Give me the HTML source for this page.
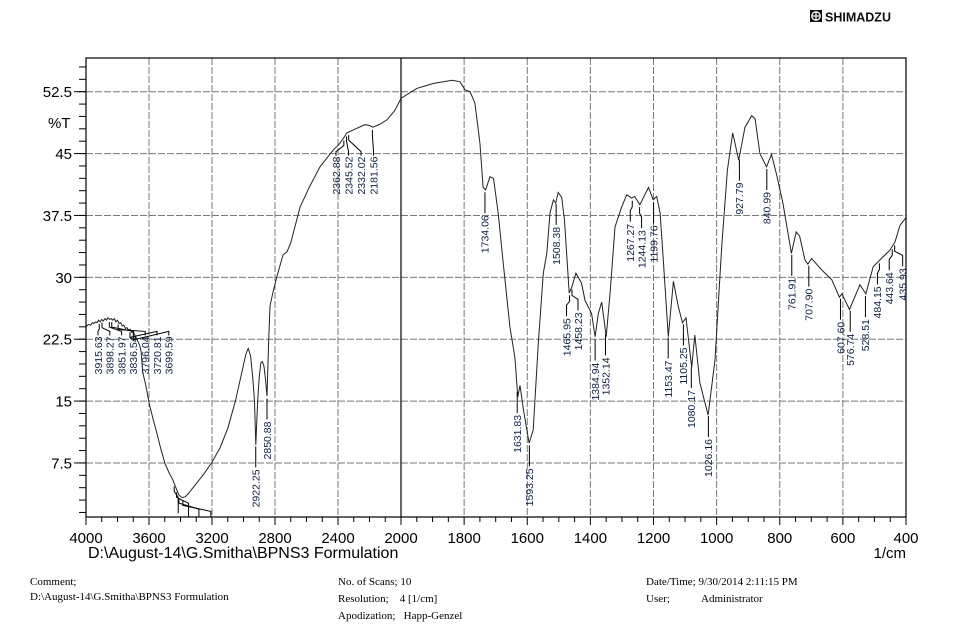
<!DOCTYPE html>
<html><head><meta charset="utf-8">
<style>
html,body{margin:0;padding:0;background:#fff;}
body{width:955px;height:638px;position:relative;overflow:hidden;font-family:"Liberation Sans",Arial,sans-serif;}
.ft{position:absolute;font-family:"Liberation Serif","Times New Roman",serif;font-size:11px;color:#000;white-space:pre;}
</style></head>
<body>
<svg id="chart" width="955" height="638" style="position:absolute;left:0;top:0">
  <g>
    <rect x="810" y="10" width="12" height="12" fill="#111"/>
    <circle cx="816" cy="16" r="4.2" fill="none" stroke="#fff" stroke-width="1.3"/>
    <line x1="816" y1="12" x2="816" y2="20" stroke="#fff" stroke-width="1.2"/>
    <line x1="812" y1="16" x2="820" y2="16" stroke="#fff" stroke-width="1.2"/>
    <text x="825" y="21.5" font-size="12.5" font-weight="bold" font-family="Liberation Sans, sans-serif" fill="#111">SHIMADZU</text>
  </g>
  <g id="grid"></g>
  <g id="axes"></g>
  <defs><clipPath id="pc"><rect x="86" y="58" width="820" height="459"/></clipPath></defs>
  <g clip-path="url(#pc)">
    <path id="spec" fill="none" stroke="#222" stroke-width="1"/>
    <g id="peaks"></g>
  </g>
  <rect x="86" y="58" width="820" height="459" fill="none" stroke="#000" stroke-width="1.2"/>
</svg>

<div class="ft" style="left:30px;top:576px">Comment;</div>
<div class="ft" style="left:30px;top:591px">D:\August-14\G.Smitha\BPNS3 Formulation</div>
<div class="ft" style="left:338px;top:576px">No. of Scans; 10</div>
<div class="ft" style="left:338px;top:593px">Resolution;    4 [1/cm]</div>
<div class="ft" style="left:338px;top:610px">Apodization;   Happ-Genzel</div>
<div class="ft" style="left:646px;top:576px">Date/Time; 9/30/2014 2:11:15 PM</div>
<div class="ft" style="left:646px;top:593px">User;</div>
<div class="ft" style="left:701px;top:593px">Administrator</div>

<script>
const wavenumbers = [4000,3985,3970,3960,3950,3940,3930,3920,3910,3900,3890,3880,3870,3860,3850,3840,3830,3820,3810,3800,3790,3780,3770,3760,3750,3740,3730,3720,3710,3700,3690,3680,3670,3660,3650,3640,3620,3600,3575,3550,3525,3500,3475,3450,3425,3410,3390,3370,3350,3300,3250,3200,3150,3100,3050,3000,2985,2970,2955,2940,2930,2922,2910,2900,2890,2880,2870,2860,2851,2840,2832,2815,2789,2749,2724,2700,2641,2580,2514,2432,2390,2343,2300,2229,2200,2178,2130,2089,2040,2000,1950,1898,1838,1813,1797,1781,1766,1750,1740,1732,1718,1707,1692,1677,1655,1639,1630,1623,1612,1594,1581,1565,1549,1538,1528,1517,1510,1502,1491,1482,1467,1459,1446,1428,1417,1396,1385,1375,1364,1350,1337,1322,1301,1285,1269,1260,1243,1216,1201,1190,1179,1169,1153,1137,1121,1108,1097,1079,1069,1053,1027,1005,984,966,949,930,910,889,878,863,842,826,811,790,763,748,737,720,711,699,667,635,611,603,579,546,527,504,483,451,435,419,403,400];
const transmittance = [24.0,24.3,24.2,24.5,24.4,24.6,24.5,24.8,24.6,24.9,24.7,25.0,24.8,25.1,24.9,25.0,24.8,25.0,24.6,24.8,24.4,24.5,24.1,24.2,23.8,23.9,23.6,23.7,23.3,23.4,23.0,22.6,22.2,21.8,21.0,18.5,16.9,14.8,12.9,11.1,9.2,7.5,6.4,5.5,4.3,3.6,3.3,3.4,3.8,5.0,6.2,7.6,9.3,11.7,15.1,19.4,20.7,21.4,20.5,17.6,15.0,9.7,15.1,18.0,19.6,19.8,19.2,17.5,15.6,22.4,26.5,28.0,30.0,32.7,33.1,34.2,38.5,41.0,43.4,45.4,46.2,47.5,47.9,48.5,48.4,48.2,48.6,49.1,50.2,51.7,52.9,53.5,53.9,53.7,52.7,52.5,51.1,46.3,40.9,40.6,42.2,42.0,37.8,32.1,24.0,20.3,15.5,16.9,13.9,9.9,11.5,22.0,30.5,32.9,37.8,39.4,39.0,40.3,39.7,36.9,28.1,28.8,30.5,29.3,27.2,25.6,22.8,25.6,27.0,22.8,28.4,36.1,38.5,40.0,39.6,39.8,38.8,40.9,39.4,39.8,37.8,32.1,22.8,29.5,26.4,24.5,25.1,19.1,23.0,17.2,13.3,20.0,33.7,43.0,47.5,44.2,48.2,49.6,49.2,45.0,43.4,44.9,42.6,39.0,32.9,35.5,35.0,32.1,31.6,32.3,30.9,29.7,27.6,28.0,26.1,29.1,28.0,31.3,32.1,33.3,34.3,36.3,37.1,37.3];
const peakWavenumbers = [1734.06,1631.83,1593.25,1508.38,1465.95,1458.23,1384.94,1352.14,1267.27,1244.13,1199.76,1153.47,1105.25,1080.17,1026.16,927.79,840.99,761.91,707.90,607.60,576.74,528.51,484.15,443.64,435.93,2922.25,2850.88];
const peakLabels = ["1734.06","1631.83","1593.25","1508.38","1465.95","1458.23","1384.94","1352.14","1267.27","1244.13","1199.76","1153.47","1105.25","1080.17","1026.16","927.79","840.99","761.91","707.90","607.60","576.74","528.51","484.15","443.64","435.93","2922.25","2850.88"];
const peakLabelShift = [0,0,0,0,-3,6,0,0,-2,2,0,0,0,0,0,0,0,0,0,0,0,0,-2,-3,8,0,0];
const clusterWavenumbers = [3915.63,3898.27,3851.97,3836.54,3796.04,3720.81,3699.59,2362.88,2345.52,2332.02,2181.56];
const clusterLabels = ["3915.63","3898.27","3851.97","3836.54","3796.04","3720.81","3699.59","2362.88","2345.52","2332.02","2181.56"];
const yTicks = [7.5,15,22.5,30,37.5,45,52.5];
const yTickLabels = ["7.5","15","22.5","30","37.5","45","52.5"];
const xTicks = [4000,3600,3200,2800,2400,2000,1800,1600,1400,1200,1000,800,600,400];

const X0=86, X2000=401, X1=906, Y0=91.7, PXU=8.25;
function xS(w){ return w>=2000 ? X0+(4000-w)*(X2000-X0)/2000 : X2000+(2000-w)*(X1-X2000)/1600; }
function yS(t){ return Y0+(52.5-t)*PXU; }
function interpT(w){
  for(let i=0;i<wavenumbers.length-1;i++){
    if(w<=wavenumbers[i] && w>=wavenumbers[i+1]){
      const f=(wavenumbers[i]-w)/(wavenumbers[i]-wavenumbers[i+1]);
      return transmittance[i]+f*(transmittance[i+1]-transmittance[i]);
    }
  }
  return transmittance[transmittance.length-1];
}
const NS="http://www.w3.org/2000/svg";
function mk(tag,attrs,parent){const e=document.createElementNS(NS,tag);for(const k in attrs)e.setAttribute(k,attrs[k]);parent.appendChild(e);return e;}

const grid=document.getElementById('grid'), axes=document.getElementById('axes');
yTicks.forEach((t,i)=>{
  const y=yS(t);
  const g=mk('line',{x1:86,x2:906,y1:y,y2:y,stroke:'#777','stroke-width':1,'stroke-dasharray':'7,2'},grid);
  
  
  const tk=mk('line',{x1:74,x2:86,y1:y,y2:y,stroke:'#000','stroke-width':1},axes);
  
  
  const tx=mk('text',{x:72,y:y+5.5,'text-anchor':'end','font-size':15,fill:'#000'},axes);
  tx.textContent=yTickLabels[i];
  
  
});
for(let t=1.5;t<=56;t+=1.5){
  const y=yS(t); if(y<58||y>517) continue;
  const m=mk('line',{x1:79,x2:86,y1:y,y2:y,stroke:'#000','stroke-width':1},axes);
  
  
}
const pt=mk('text',{x:48,y:128,'font-size':15,fill:'#000'},axes);
pt.textContent='%T';


xTicks.forEach(w=>{
  const x=xS(w);
  if(w!==4000 && w!==400){
    const g=mk('line',{x1:x,x2:x,y1:58,y2:517,stroke:w===2000?'#000':'#777','stroke-width':w===2000?1.2:1,'stroke-dasharray':w===2000?'none':'7,2'},grid);
    
    
  }
  const tk=mk('line',{x1:x,x2:x,y1:517,y2:525,stroke:'#000','stroke-width':1},axes);
  
  
  const tx=mk('text',{x:x,y:543,'text-anchor':'middle','font-size':15,fill:'#000'},axes);
  tx.textContent=String(w);
  
  
});
for(let w=3900;w>2000;w-=100){ if(w%400===0) continue;
  const m=mk('line',{x1:xS(w),x2:xS(w),y1:517,y2:522,stroke:'#000','stroke-width':1},axes);
  
  
}
for(let w=1950;w>400;w-=50){ if(w%200===0) continue;
  const m=mk('line',{x1:xS(w),x2:xS(w),y1:517,y2:522,stroke:'#000','stroke-width':1},axes);
  
  
}
const fn=mk('text',{x:88,y:558,'font-size':16,fill:'#000'},axes);
fn.textContent='D:\\August-14\\G.Smitha\\BPNS3 Formulation';


const un=mk('text',{x:906,y:558,'text-anchor':'end','font-size':15,fill:'#000'},axes);
un.textContent='1/cm';



let d='';
wavenumbers.forEach((w,i)=>{ d+=(i?'L':'M')+xS(w).toFixed(1)+','+yS(transmittance[i]).toFixed(1); });
document.getElementById('spec').setAttribute('d',d);

const pk=document.getElementById('peaks');
function label(xc,xl,yTop,txt,lineFromY){
  const pts = xc===xl ? `${xc},${lineFromY} ${xl},${yTop}` : `${xc},${lineFromY} ${xc},${lineFromY+6} ${xl},${lineFromY+10} ${xl},${yTop}`;
  const l=mk('polyline',{points:pts,fill:'none',stroke:'#000','stroke-width':1},pk);
  
  
  const t=mk('text',{x:0,y:0,'font-size':10.5,'text-anchor':'end',fill:'#102040',transform:`translate(${xl+3.8},${yTop+2}) rotate(-90)`},pk);
  t.textContent=txt;
  
  
}
peakWavenumbers.forEach((w,i)=>{
  const x=xS(w), yc=yS(interpT(w));
  label(x,x+peakLabelShift[i],yc+24,peakLabels[i],yc+3);
});
clusterWavenumbers.forEach((w,i)=>{
  const xc=xS(w), yc=yS(interpT(w));
  const hi = w>3000;
  const xl = hi ? 98+i*11.8 : 336+(i-7)*12.5;
  const yl = hi ? yS(23.2)+2 : yS(45)+2;
  const p=mk('polyline',{points:`${xc},${yc+3} ${xc},${yc+8} ${xl},${yl-4} ${xl},${yl}`,fill:'none',stroke:'#000','stroke-width':1},pk);
  
  
  const t=mk('text',{x:0,y:0,'font-size':10.5,'text-anchor':'end',fill:'#102040',transform:`translate(${xl+3.8},${yl+1}) rotate(-90)`},pk);
  t.textContent=clusterLabels[i];
  
  
});
[3440,3425,3410,3385].forEach((w,i)=>{
  const xc=xS(w), yc=yS(interpT(w)), xl=xc+4+i*8;
  const p=mk('polyline',{points:`${xc},${yc+3} ${xc},${yc+8} ${xl},${yc+14} ${xl},${yc+30}`,fill:'none',stroke:'#000','stroke-width':1},pk);
  
  
});
</script>
</body></html>
